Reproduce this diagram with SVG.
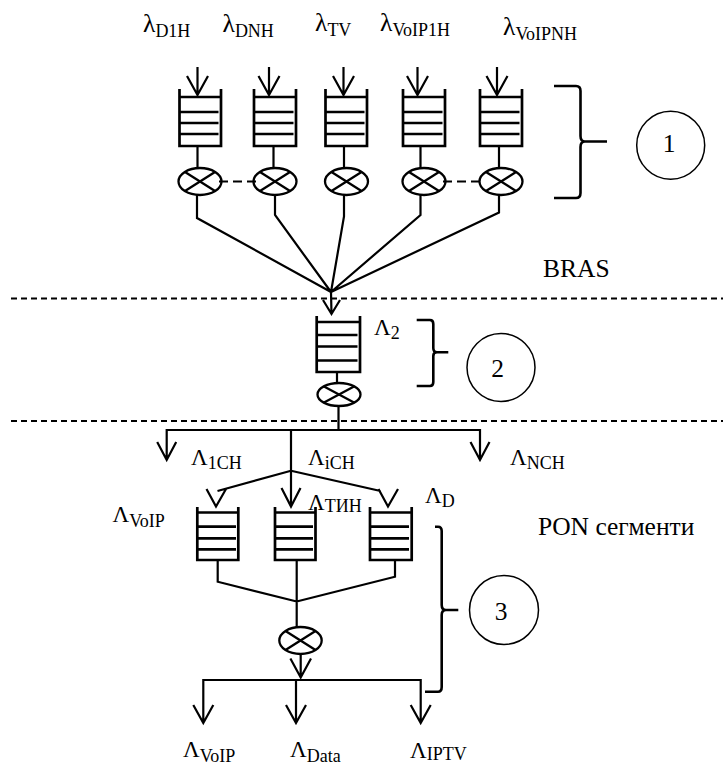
<svg xmlns="http://www.w3.org/2000/svg" width="723" height="767" viewBox="0 0 723 767">
<style>
.q{fill:none;stroke:#000;stroke-width:2.7}
.s{fill:none;stroke:#000;stroke-width:2.2}
.e{fill:none;stroke:#000;stroke-width:2.3}
.b{fill:none;stroke:#000;stroke-width:2.6}
.c{fill:none;stroke:#000;stroke-width:1.5}
.d{fill:none;stroke:#000;stroke-width:2;stroke-dasharray:6 4}
.dd{fill:none;stroke:#000;stroke-width:2.2;stroke-dasharray:9 5}
text{font-family:"Liberation Serif","Times New Roman",serif;fill:#000}
.t{font-size:25.5px}
.L{font-size:23px}
.sub{font-size:18px}
</style>
<rect width="723" height="767" fill="#fff"/>

<!-- top labels -->
<g id="labels-top">
<text class="t" x="143" y="32">λ<tspan class="sub" dy="5">D1H</tspan></text>
<text class="t" x="222.5" y="31.5">λ<tspan class="sub" dy="5">DNH</tspan></text>
<text class="t" x="315" y="30.5">λ<tspan class="sub" dy="5">TV</tspan></text>
<text class="t" x="380" y="30.5">λ<tspan class="sub" dy="5">VoIP1H</tspan></text>
<text class="t" x="503" y="35">λ<tspan class="sub" dy="5">VoIPNH</tspan></text>
</g>

<!-- top queues -->
<g id="q1"><path class="q" d="M179.5,89V146H221V89M179.5,97H221M179.5,112H218.5M179.5,123H218.5M179.5,134H218.5"/></g>
<g id="q2"><path class="q" d="M254,89V146H296V89M254,97H296M254,112H293.5M254,123H293.5M254,134H293.5"/></g>
<g id="q3"><path class="q" d="M325.5,89V146H367V89M325.5,97H367M325.5,112H364.5M325.5,123H364.5M325.5,134H364.5"/></g>
<g id="q4"><path class="q" d="M403,89V146H445V89M403,97H445M403,112H442.5M403,123H442.5M403,134H442.5"/></g>
<g id="q5"><path class="q" d="M480,89V146H522V89M480,97H522M480,112H519.5M480,123H519.5M480,134H519.5"/></g>

<!-- top switches -->
<g id="m1"><ellipse class="e" cx="200" cy="181.5" rx="21.5" ry="13.5"/><path class="e" d="M185,172L215,191M185,191L215,172"/></g>
<g id="m2"><ellipse class="e" cx="275" cy="181.5" rx="21.5" ry="13.5"/><path class="e" d="M260,172L290,191M260,191L290,172"/></g>
<g id="m3"><ellipse class="e" cx="346.5" cy="181.5" rx="21.5" ry="13.5"/><path class="e" d="M331.5,172L361.5,191M331.5,191L361.5,172"/></g>
<g id="m4"><ellipse class="e" cx="424" cy="181.5" rx="21.5" ry="13.5"/><path class="e" d="M409,172L439,191M409,191L439,172"/></g>
<g id="m5"><ellipse class="e" cx="501" cy="181.5" rx="21.5" ry="13.5"/><path class="e" d="M486,172L516,191M486,191L516,172"/></g>

<!-- stage 2 -->
<g id="q6"><path class="q" d="M316.7,316V372H360V316M316.7,322H360M316.7,335H357.5M316.7,346.5H357.5M316.7,360.5H357.5"/></g>
<g id="m6"><ellipse class="e" cx="339" cy="394.5" rx="21.5" ry="11.5"/><path class="e" d="M324,386.5L354,402.5M324,402.5L354,386.5"/></g>
<text class="L" x="374" y="335">Λ<tspan class="sub" dy="3.5">2</tspan></text>

<!-- PON queues -->
<g id="q7"><path class="q" d="M197.3,507V560H238.3V507M197.3,512.5H238.3M197.3,526.7H236M197.3,538.3H236M197.3,549.3H236"/></g>
<g id="q8"><path class="q" d="M275,507V560H315.5V507M275,512.5H315.5M275,526.7H313M275,538.3H313M275,549.3H313"/></g>
<g id="q9"><path class="q" d="M370,507V560H411.7V507M370,512.5H411.7M370,526.7H409M370,538.3H409M370,549.3H409"/></g>
<g id="m7"><ellipse class="e" cx="300.5" cy="640.5" rx="21.2" ry="13.5"/><path class="e" d="M285.5,631L315.5,650M285.5,650L315.5,631"/></g>

<!-- connectors -->
<g id="connectors">
<path class="s" d="M197.5,67V95M187,76L197.5,95L208,76"/>
<path class="s" d="M269,67V95M258.5,76L269,95L279.5,76"/>
<path class="s" d="M343.5,67V95M333,76L343.5,95L354,76"/>
<path class="s" d="M417.5,67V95M407,76L417.5,95L428,76"/>
<path class="s" d="M497,67V95M486.5,76L497,95L507.5,76"/>
<path class="s" d="M197.5,146V168M273.5,146V168M344,146V168M420.5,146V168M499,146V168"/>
<path class="dd" d="M219,181.5H256M443,181.5H482"/>
<path class="s" d="M197,195V218L331,292M275,195V215L331,292M344,195V216.5L331,292M420.5,195V215L331,292M499,195V212.5L331,292"/>
<path class="s" d="M331,292L331.5,314M323,300L331.5,314L340,300"/>
<path class="s" d="M337,372V383M338.5,406V430"/>
<path class="s" d="M166.7,460V430H480V460M157.2,442L166.7,460L176.2,442M470.5,442L480,460L489.5,442"/>
<path class="s" d="M291,430V506.5M281.5,488L291,506.5L300.5,488"/>
<path class="s" d="M291,470.7L217.5,491M206.5,489L216,506.5L226,489"/>
<path class="s" d="M291,470.7L380.5,491M378.5,489L388,506.5L398,489"/>
<path class="s" d="M217.7,560V581.7L296.7,601.5M296.7,560V627M395,560V576.7L296.7,601.5"/>
<path class="s" d="M300.7,654V677.5M290.4,658.5L300.7,677.5L311,658.5"/>
<path class="s" d="M203.3,723V680H420.7V723M296,680V723M193.3,705L203.3,723L213.3,705M286,705L296,723L306,705M410.7,705L420.7,723L430.7,705"/>
</g>

<!-- dashed borders -->
<g id="borders">
<path class="d" d="M11,298.5H723"/>
<path class="d" d="M11,421H723"/>
</g>

<!-- braces and circles -->
<g id="brace1"><path class="b" d="M554,86H576Q580.5,86 580.5,91V136Q580.5,141.5 585,141.5H607M585,141.5Q580.5,141.5 580.5,147V193Q580.5,198 576,198H554"/></g>
<g id="n1"><circle class="c" cx="670.7" cy="145.3" r="34"/><text class="t" x="669" y="152" text-anchor="middle">1</text></g>
<g id="brace2"><path class="b" d="M416.7,320H430Q433.3,320 433.3,324V348Q433.3,352.3 437,352.3H448.3M437,352.3Q433.3,352.3 433.3,356V382Q433.3,386 430,386H416.7"/></g>
<g id="n2"><circle class="c" cx="501" cy="367.5" r="34"/><text class="t" x="497.5" y="377.3" text-anchor="middle">2</text></g>
<g id="brace3"><path class="b" d="M435,526.7H438Q441.7,526.7 441.7,531V605Q441.7,610 446,610H458.3M446,610Q441.7,610 441.7,615V687Q441.7,691.7 438,691.7H425"/></g>
<g id="n3"><circle class="c" cx="504" cy="610" r="34.5"/><text class="t" x="501" y="620" text-anchor="middle">3</text></g>

<!-- section labels -->
<text class="t" x="543" y="276.5">BRAS</text>
<text class="t" x="538" y="535">PON сегменти</text>

<!-- PON labels -->
<g id="labels-pon">
<text class="L" x="191" y="465">Λ<tspan class="sub" dy="3.5">1CH</tspan></text>
<text class="L" x="308" y="465">Λ<tspan class="sub" dy="3.5">iCH</tspan></text>
<text class="L" x="510" y="465">Λ<tspan class="sub" dy="3.5">NCH</tspan></text>
<text class="L" x="308" y="510">Λ<tspan class="sub" dy="2">ТИН</tspan></text>
<text class="L" x="425" y="503">Λ<tspan class="sub" dy="3.5">D</tspan></text>
<text class="L" x="112.5" y="521.7">Λ<tspan class="sub" dy="5.5">VoIP</tspan></text>
<text class="L" x="183" y="756.5">Λ<tspan class="sub" dy="5.5">VoIP</tspan></text>
<text class="L" x="290" y="757">Λ<tspan class="sub" dy="4.5">Data</tspan></text>
<text class="L" x="410" y="757.5">Λ<tspan class="sub" dy="2">IPTV</tspan></text>
</g>
</svg>
